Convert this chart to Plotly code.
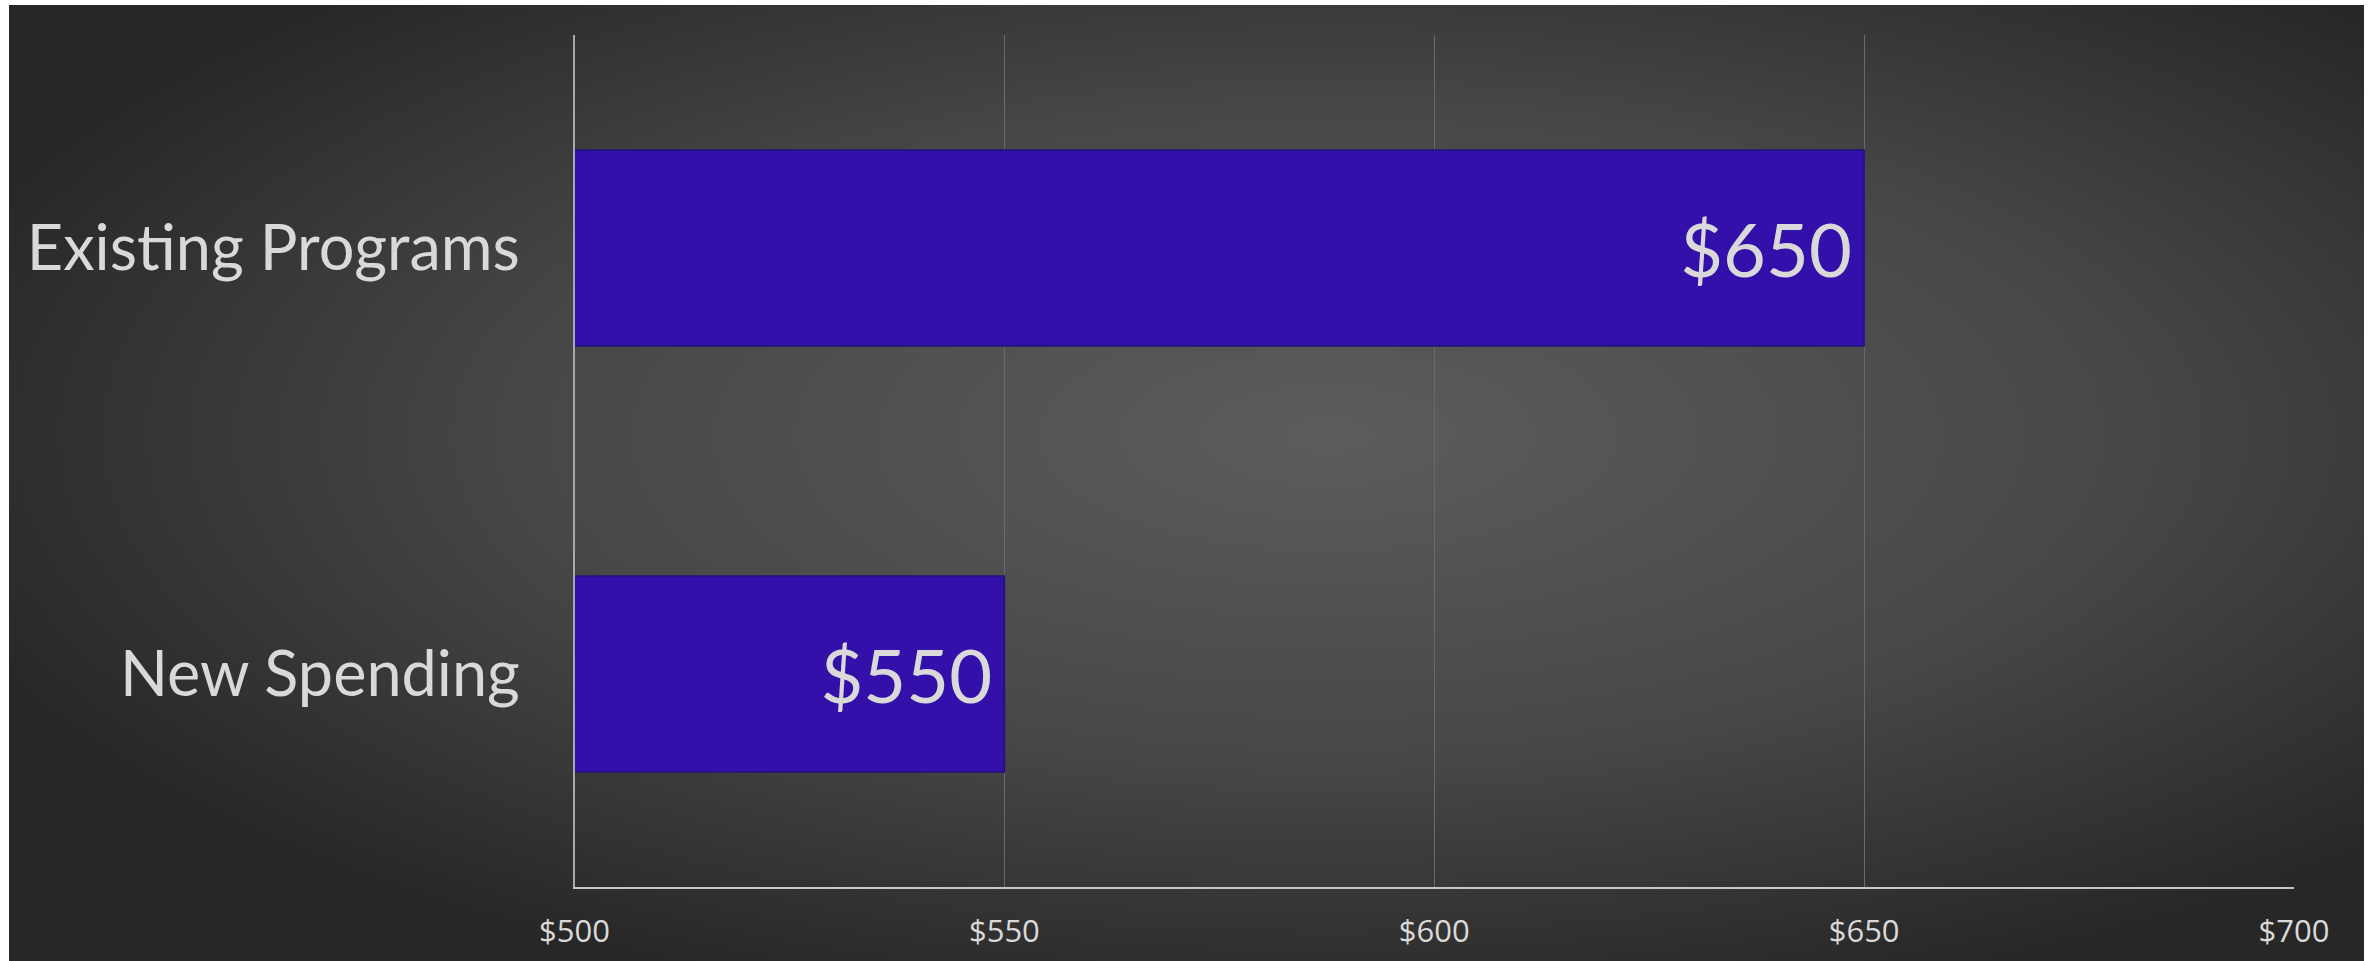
import base64
import plotly.graph_objects as go

# ---- data ----
categories = ["New Spending", "Existing Programs"]
values = [550, 650]
x_tickvals = [500, 550, 600, 650, 700]
x_ticktext = ["$500", "$550", "$600", "$650", "$700"]

W, H = 2377, 961

# background: radial gradient panel with white border
svg = (
    '<svg xmlns="http://www.w3.org/2000/svg" width="2355" height="956" '
    'viewBox="0 0 2355 956" preserveAspectRatio="none">'
    '<defs><radialGradient id="g" cx="0.56" cy="0.45" r="0.62">'
    '<stop offset="0" stop-color="#5c5c5c"/>'
    '<stop offset="0.55" stop-color="#474747"/>'
    '<stop offset="1" stop-color="#272727"/>'
    '</radialGradient></defs>'
    '<rect width="2355" height="956" fill="url(#g)"/></svg>'
)
bg_src = "data:image/svg+xml;base64," + base64.b64encode(svg.encode()).decode()

fig = go.Figure()
fig.add_trace(go.Bar(
    y=categories,
    x=values,
    orientation="h",
    width=0.46,
    marker=dict(color="#3410aa", line=dict(color="#22107a", width=1.5)),
    text=["$" + str(v) + "\u2009" for v in values],
    textposition="inside",
    insidetextanchor="end",
    textfont=dict(family="Lato", size=74, color="#d9d9d9"),
    hoverinfo="skip",
))

x0, x1 = 574.5 / W, 2294 / W
y_top, y_bot = 35 / H, 887 / H

fig.update_layout(
    width=W, height=H,
    margin=dict(l=0, r=0, t=0, b=0, autoexpand=False),
    paper_bgcolor="white",
    plot_bgcolor="rgba(0,0,0,0)",
    showlegend=False,
    images=[dict(
        source=bg_src, xref="paper", yref="paper",
        x=9 / W, y=1 - 5 / H, sizex=(2364 - 9) / W, sizey=(H - 5) / H,
        xanchor="left", yanchor="top", sizing="stretch", layer="below",
    )],
    xaxis=dict(
        domain=[x0, x1],
        range=[500, 700],
        automargin=False,
        tickvals=x_tickvals,
        ticktext=x_ticktext,
        showgrid=True, gridcolor="#6a6a6a", gridwidth=1,
        showline=True, linecolor="#c0c8d0", linewidth=2,
        zeroline=False, ticks="",
        ticklabelstandoff=16,
        tickfont=dict(family="Open Sans", size=31, color="#d9d9d9"),
        fixedrange=True,
    ),
    yaxis=dict(
        domain=[1 - y_bot, 1 - y_top],
        automargin=False,
        showgrid=False,
        showline=True, linecolor="#a8a8a8", linewidth=2,
        ticks="",
        ticklabelstandoff=40,
        tickfont=dict(family="Lato", size=63, color="#d9d9d9"),
        fixedrange=True,
    ),
)

fig.write_html("out.html")
